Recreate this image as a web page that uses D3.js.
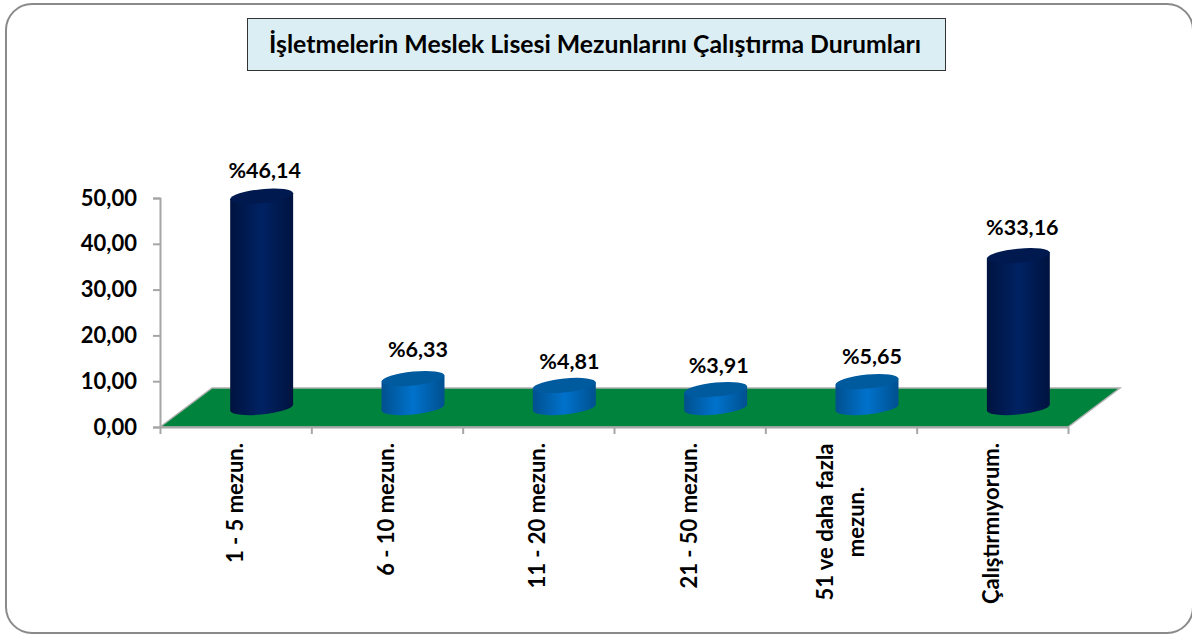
<!DOCTYPE html>
<html>
<head>
<meta charset="utf-8">
<script src="https://d3js.org/d3.v7.min.js"></script>
<title>Mezun</title>
<style>
  body { margin: 0; background: #fff; }
  text { font-family: Lato, "Open Sans", sans-serif; font-weight: 700; fill: #000; }
</style>
</head>
<body>
<script>
var chartTitle = "İşletmelerin Meslek Lisesi Mezunlarını Çalıştırma Durumları";
var categories = [["1 - 5 mezun."], ["6 - 10 mezun."], ["11 - 20 mezun."], ["21 - 50 mezun."], ["51 ve daha fazla", "mezun."], ["Çalıştırmıyorum."]];
var values = [46.14, 6.33, 4.81, 3.91, 5.65, 33.16];
var yTicks = [0, 10, 20, 30, 40, 50];
var labelShift = [[3, -18], [5, -22], [5, -16], [3, -17], [5, -18], [4, -21]]; // labels were placed by hand

var W = 1192, H = 635,
    depthX = 52, depthY = 39,  // floor depth
    skew = -5.5,               // tilt of the cylinder ends
    ry = 7;

var comma = function(d){ return d3.format(".2f")(d).replace(".", ","); };

var svg = d3.select("body").append("svg")
  .attr("width", W)
  .attr("height", H)
  .style("display", "block");

var defs = svg.append("defs");
function gradient(id, edge, mid){
  var g = defs.append("linearGradient").attr("id", id);
  g.append("stop").attr("offset", "0%").attr("stop-color", edge);
  g.append("stop").attr("offset", "50%").attr("stop-color", mid);
  g.append("stop").attr("offset", "100%").attr("stop-color", edge);
}
gradient("navy", "#00133f", "#002263");
gradient("blue", "#00508f", "#0072cc");

// panel
svg.append("rect")
  .attr("x", 6).attr("y", 4)
  .attr("width", 1187).attr("height", 629)
  .attr("rx", 26)
  .attr("fill", "#fff")
  .attr("stroke", "#8a8a8a")
  .attr("stroke-width", 2);

// title box
svg.append("rect")
  .attr("x", 247.5).attr("y", 18.5)
  .attr("width", 698).attr("height", 52)
  .attr("fill", "#dbeef4")
  .attr("stroke", "#333");
svg.append("text")
  .attr("x", 595).attr("y", 53)
  .attr("text-anchor", "middle")
  .attr("font-size", 24.8)
  .text(chartTitle);

var x = d3.scaleBand().domain(d3.range(categories.length)).range([160, 1068]);
var xEdge = d3.scaleLinear().domain([0, categories.length]).range([160, 1068]);
var y = d3.scaleLinear().domain([0, 50]).range([427, 198]);
var r = x.step() * 0.208;

// floor
var floor = d3.line()([[160, 427], [160 + depthX, 427 - depthY], [1068 + depthX, 427 - depthY], [1068, 427]]) + "Z";
svg.append("path")
  .attr("d", floor)
  .attr("fill", "#00843d")
  .attr("stroke", "#b0b0b0")
  .attr("stroke-width", 1.5);

// axes
var yAxis = svg.append("g")
  .attr("transform", "translate(160,0)")
  .call(d3.axisLeft(y).tickValues(yTicks).tickFormat(comma).tickSize(7).tickPadding(16));
var xAxis = svg.append("g")
  .attr("transform", "translate(0,427)")
  .call(d3.axisBottom(xEdge).tickValues(d3.range(categories.length + 1)).tickFormat("").tickSize(7).tickSizeOuter(0));
svg.selectAll(".domain, .tick line")
  .attr("stroke", "#a6a6a6")
  .attr("stroke-width", 2);
yAxis.selectAll("text").attr("font-size", 22).attr("fill", "#000");

// cylinders
var baseY = 427 - depthY / 2;
var bars = svg.selectAll("g.bar")
  .data(values)
  .enter().append("g")
    .attr("class", "bar")
    .attr("transform", function(d,i){ return "translate("+(x(i)+x.bandwidth()/2+depthX/2)+",0) skewY("+skew+")"; });
bars.append("path")
  .attr("d", function(d){
    var top = baseY - (y(0) - y(d));
    return "M"+(-r)+","+top+"L"+(-r)+","+baseY+"A"+r+","+ry+" 0 0 0 "+r+","+baseY+"L"+r+","+top+"Z";
  })
  .attr("fill", function(d){ return d > 20 ? "url(#navy)" : "url(#blue)"; });
bars.append("ellipse")
  .attr("cx", 0)
  .attr("cy", function(d){ return baseY - (y(0) - y(d)); })
  .attr("rx", r)
  .attr("ry", ry)
  .attr("fill", function(d){ return d > 20 ? "#001a4f" : "#005a9e"; });

// value labels
svg.selectAll("text.val")
  .data(values)
  .enter().append("text")
    .attr("class", "val")
    .attr("x", function(d,i){ return x(i) + x.bandwidth()/2 + depthX/2 + labelShift[i][0]; })
    .attr("y", function(d,i){ return baseY - (y(0) - y(d)) + labelShift[i][1]; })
    .attr("text-anchor", "middle")
    .attr("font-size", 21.5)
    .text(function(d){ return "%" + comma(d); });

// category labels, read bottom to top
var cats = svg.selectAll("g.cat")
  .data(categories)
  .enter().append("g")
    .attr("class", "cat")
    .attr("transform", function(d,i){ return "translate("+(x(i)+x.bandwidth()/2)+",443) rotate(-90)"; });
cats.each(function(d){
  var g = d3.select(this), wide = d.length > 1;
  d.forEach(function(line, j){
    g.append("text")
      .attr("x", wide ? -79 : 0)
      .attr("y", (j - (d.length - 1) / 2) * 31 + 7)
      .attr("text-anchor", wide ? "middle" : "end")
      .attr("font-size", 22)
      .text(line);
  });
});
</script>
</body>
</html>
